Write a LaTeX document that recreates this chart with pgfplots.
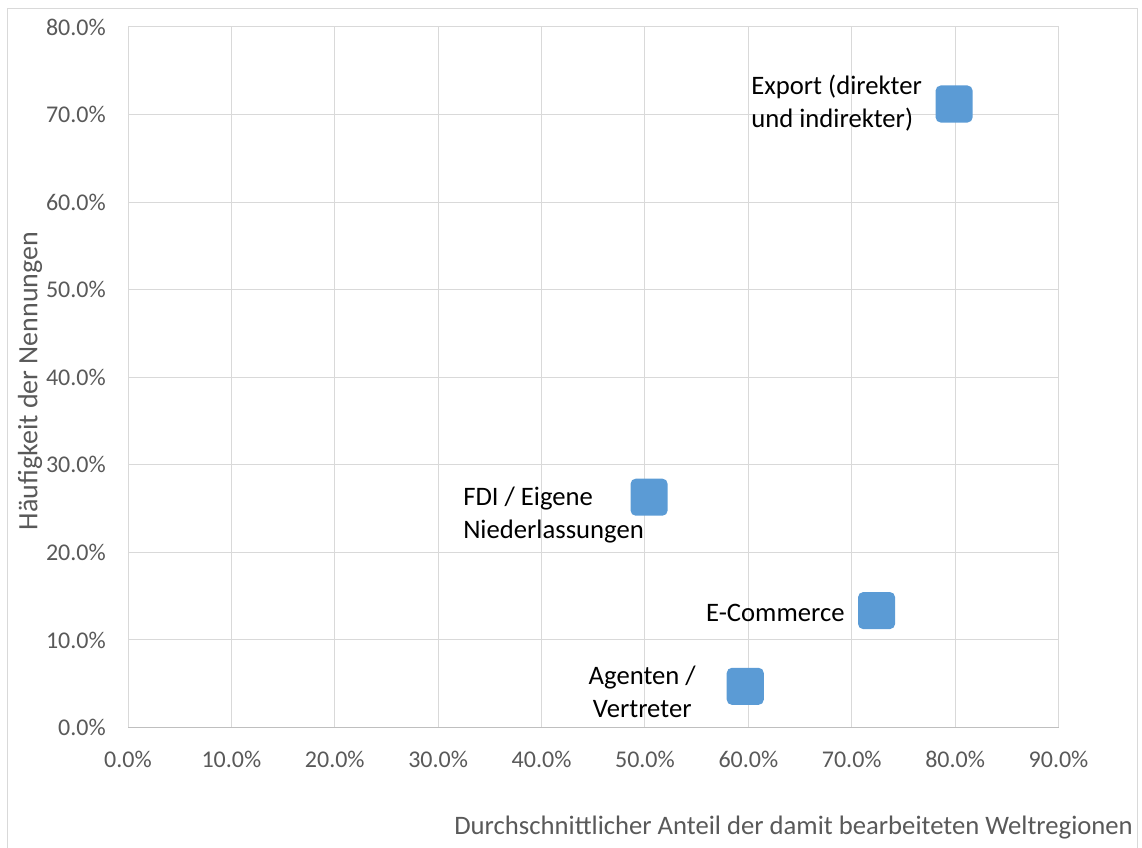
\documentclass[border=0pt]{standalone}
\usepackage{fontspec}
\setmainfont{Carlito}
\usepackage{pgfplots}
\pgfplotsset{compat=1.18}
\definecolor{cblue}{HTML}{5B9BD5}
\definecolor{cgrid}{HTML}{D9D9D9}
\definecolor{caxis}{HTML}{BFBFBF}
\definecolor{ctext}{HTML}{595959}
\pgfdeclareplotmark{rsquare}{%
  \pgfmathsetmacro{\ss}{\pgfplotmarksize}%
  \pgfmathsetmacro{\rr}{0.28*\pgfplotmarksize}%
  \pgfmathsetmacro{\ii}{\ss-\rr}%
  \pgfpathmoveto{\pgfpoint{-\ii pt}{-\ss pt}}%
  \pgfpathlineto{\pgfpoint{\ii pt}{-\ss pt}}%
  \pgfpatharc{270}{360}{\rr pt}%
  \pgfpathlineto{\pgfpoint{\ss pt}{\ii pt}}%
  \pgfpatharc{0}{90}{\rr pt}%
  \pgfpathlineto{\pgfpoint{-\ii pt}{\ss pt}}%
  \pgfpatharc{90}{180}{\rr pt}%
  \pgfpathlineto{\pgfpoint{-\ss pt}{-\ii pt}}%
  \pgfpatharc{180}{270}{\rr pt}%
  \pgfpathclose
  \pgfusepathqfill}
\begin{document}
\begin{tikzpicture}
\path[use as bounding box] (0,0) rectangle (856.5pt,-635.25pt);
\draw[cgrid, line width=0.75pt] (5.5pt,-6.2pt) rectangle (853pt,-700pt);
\begin{axis}[
  at={(96pt,-545.6pt)}, anchor=south west,
  scale only axis, width=697.9pt, height=525.4pt,
  xmin=0, xmax=90, ymin=0, ymax=80,
  xtick={0,10,...,90}, ytick={0,10,...,80},
  grid=major,
  major grid style={color=cgrid, line width=0.75pt},
  axis line style={color=cgrid, line width=0.75pt},
  x axis line style={color=caxis},
  axis x line*=bottom, axis y line*=left,
  tick style={draw=none},
  /pgf/number format/.cd, fixed, fixed zerofill, precision=1, assume math mode=true,
  /pgfplots/.cd,
  xticklabel={\pgfmathprintnumber{\tick}\%},
  yticklabel={\pgfmathprintnumber{\tick}\%},
  tick label style={font=\fontsize{18}{22}\selectfont, text=ctext},
  xticklabel style={inner sep=0pt, anchor=north, yshift=-17.6pt},
  yticklabel style={inner sep=0pt, anchor=east, xshift=-16.5pt},
  clip=false,
]
\addplot[only marks, mark=rsquare, mark size=13.9pt, color=cblue] coordinates {
  (79.9,71.2)
  (50.4,26.3)
  (72.4,13.35)
  (59.7,4.7)
};
\begin{scope}[every node/.style={font=\fontsize{20}{24.75}\selectfont, text=black, inner sep=0pt}]
\node[anchor=east, align=left, xshift=-24pt, yshift=0.7pt] at (axis cs:79.9,71.2) {Export (direkter\\und indirekter)};
\node[anchor=east, align=left, xshift=-3.75pt, yshift=-13.5pt] at (axis cs:50.4,26.3) {FDI / Eigene\\Niederlassungen};
\node[anchor=east, xshift=-23.8pt, yshift=-1.5pt] at (axis cs:72.4,13.35) {E-Commerce};
\node[anchor=center, align=center, xshift=-77.25pt, yshift=-4.3pt] at (axis cs:59.7,4.7) {Agenten /\\Vertreter};
\end{scope}
\end{axis}
\node[anchor=base east, inner sep=0pt, text=ctext, font=\fontsize{20}{24}\selectfont] at (849.75pt,-625.5pt) {Durchschnittlicher Anteil der damit bearbeiteten Weltregionen};
\node[anchor=base, rotate=90, inner sep=0pt, text=ctext, font=\fontsize{21}{26}\selectfont] at (28pt,-285.75pt) {Häufigkeit der Nennungen};
\end{tikzpicture}
\end{document}
